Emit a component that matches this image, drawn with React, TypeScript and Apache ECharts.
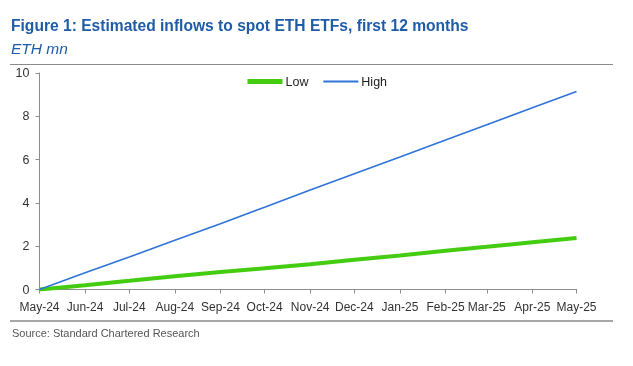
import React, { useEffect, useRef } from "react";
import * as echarts from "echarts";

const monthNames = ["Jan", "Feb", "Mar", "Apr", "May", "Jun", "Jul", "Aug", "Sep", "Oct", "Nov", "Dec"];
// month-start dates (year, monthIndex)
const dates: [number, number][] = [
  [2024, 4], [2024, 5], [2024, 6], [2024, 7], [2024, 8], [2024, 9], [2024, 10],
  [2024, 11], [2025, 0], [2025, 1], [2025, 2], [2025, 3], [2025, 4],
];
const lowValues = [0, 0.2, 0.4, 0.61, 0.81, 0.98, 1.17, 1.37, 1.57, 1.79, 1.97, 2.18, 2.38];
const highValues = [0, 0.77, 1.5, 2.27, 3.04, 3.8, 4.6, 5.35, 6.12, 6.9, 7.61, 8.39, 9.15];

const titleText = "Figure 1: Estimated inflows to spot ETH ETFs, first 12 months";
const subtitleText = "ETH mn";
const sourceText = "Source: Standard Chartered Research";

export default function App() {
  const ref = useRef<HTMLDivElement>(null);
  useEffect(() => {
    if (!ref.current) return;
    const chart = echarts.init(ref.current, undefined, { renderer: "svg" });
    const ts = dates.map(([y, m]) => new Date(y, m, 1).getTime());
    const font = "Arial, 'Liberation Sans', sans-serif";
    const green = "#44cc11";
    const blue = "#2f74d8";
    chart.setOption({
      animation: false,
      textStyle: { fontFamily: font },
      graphic: [
        { type: "text", left: 11, top: 17, style: { text: titleText, font: `bold 15.6px ${font}`, fill: "#1f5ca8" } },
        { type: "text", left: 11, top: 40, style: { text: subtitleText, font: `italic 15.5px ${font}`, fill: "#1f5ca8" } },
        { type: "line", shape: { x1: 10, y1: 64.5, x2: 613, y2: 64.5 }, style: { stroke: "#8a8a8a", lineWidth: 1.2 } },
        { type: "line", shape: { x1: 10, y1: 321, x2: 613, y2: 321 }, style: { stroke: "#8a8a8a", lineWidth: 1.5 } },
        { type: "text", left: 12, top: 327, style: { text: sourceText, font: `11px ${font}`, fill: "#555" } },
      ],
      legend: {
        top: 70,
        left: 240,
        itemWidth: 35,
        itemHeight: 12,
        itemGap: 14,
        itemStyle: { opacity: 0 },
        textStyle: { fontSize: 12.5, color: "#222", padding: [0, 0, 0, -2] },
        data: [
          { name: "Low", lineStyle: { width: 5 } },
          { name: "High", lineStyle: { width: 1.8 } },
        ],
      },
      grid: { left: 39.5, right: 56.5, top: 73, bottom: 76.5, containLabel: false },
      xAxis: {
        type: "time",
        min: ts[0],
        max: ts[ts.length - 1],
        splitNumber: 12,
        minInterval: 28 * 864e5,
        maxInterval: 31 * 864e5,
        axisLine: { lineStyle: { color: "#8c8c8c", width: 1 } },
        axisTick: { show: true, length: 4, lineStyle: { color: "#8c8c8c" } },
        splitLine: { show: false },
        axisLabel: {
          color: "#333",
          fontSize: 12,
          margin: 11,
          hideOverlap: false,
          showMinLabel: true,
          showMaxLabel: true,
          formatter: (v: number) => {
            const d = new Date(v);
            return `${monthNames[d.getMonth()]}-${String(d.getFullYear()).slice(2)}`;
          },
        },
      },
      yAxis: {
        type: "value",
        min: 0,
        max: 10,
        interval: 2,
        axisLine: { show: true, lineStyle: { color: "#8c8c8c", width: 1 } },
        axisTick: { show: true, length: 4, lineStyle: { color: "#8c8c8c" } },
        splitLine: { show: false },
        axisLabel: { color: "#333", fontSize: 12.5, margin: 10 },
      },
      series: [
        {
          name: "Low",
          type: "line",
          showSymbol: false,
          symbol: "none",
          data: ts.map((t, i) => [t, lowValues[i]]),
          lineStyle: { color: green, width: 4 },
          itemStyle: { color: green },
        },
        {
          name: "High",
          type: "line",
          showSymbol: false,
          symbol: "none",
          data: ts.map((t, i) => [t, highValues[i]]),
          lineStyle: { color: blue, width: 1.6 },
          itemStyle: { color: blue },
        },
      ],
    });
    return () => chart.dispose();
  }, []);
  return <div ref={ref} style={{ position: "fixed", left: 0, top: 0, width: 633, height: 366 }} />;
}
